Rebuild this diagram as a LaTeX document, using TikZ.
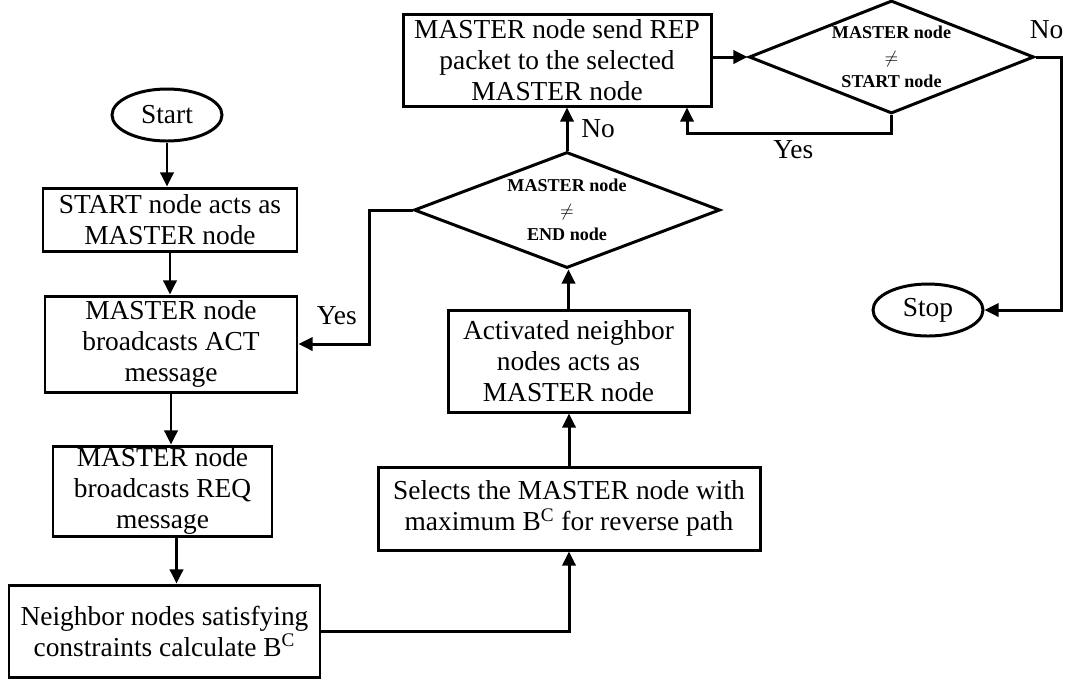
\documentclass[tikz,border=0pt]{standalone}
\usepackage{fontspec}
\setmainfont{Liberation Serif}
\usetikzlibrary{arrows.meta,shapes.geometric}

\begin{document}
\begin{tikzpicture}[->,>={Triangle[length=8pt,width=7.5pt]},line width=1.7pt,
    box/.style={shape=rectangle,draw=black,align=center,inner sep=0pt,font=\fontsize{15.6}{17.6}\selectfont},
    term/.style={shape=ellipse,draw=black,inner sep=0pt,minimum width=2.2cm,minimum height=1.04cm,font=\fontsize{15.6}{17.6}\selectfont},
    decide/.style={shape=diamond,draw=black,align=center,inner sep=0pt,font=\fontsize{10.3}{13.8}\selectfont\bfseries},
    lbl/.style={font=\fontsize{15.6}{17.6}\selectfont}]
                \useasboundingbox (0, 0) rectangle (21.34, -13.64);
                \node[term](Start)at(3.34, -2.30){Start};
                \node[box,minimum width=5.08cm,minimum height=1.26cm](Act)at(3.40, -4.39){START node acts as\\MASTER node};
                \node[box,minimum width=5.04cm,minimum height=1.92cm](Bact)at(3.42, -6.88){MASTER node\\broadcasts ACT\\message};
                \node[box,minimum width=4.38cm,minimum height=1.80cm](Breq)at(3.25, -9.82){MASTER node\\broadcasts REQ\\message};
                \node[box,minimum width=6.22cm,minimum height=1.84cm](Calc)at(3.29, -12.62){Neighbor nodes satisfying\\constraints calculate B\textsuperscript{C}};
                \node[box,minimum width=7.64cm,minimum height=1.66cm](Sel)at(11.38, -10.17){Selects the MASTER node with\\maximum B\textsuperscript{C} for reverse path};
                \node[box,minimum width=4.82cm,minimum height=2.04cm](Nbr)at(11.37, -7.22){Activated neighbor\\nodes acts as\\MASTER node};
                \node[decide,aspect=2.64,minimum width=6.12cm,minimum height=2.32cm](EndChk)at(11.34, -4.20){MASTER node\\{\mdseries$\neq$}\\END node};
                \node[box,minimum width=6.16cm,minimum height=1.84cm](Rep)at(11.14, -1.20){MASTER node send REP\\packet to the selected\\MASTER node};
                \node[decide,aspect=2.52,minimum width=5.70cm,minimum height=2.26cm](StartChk)at(17.83, -1.14){MASTER node\\{\mdseries$\neq$}\\START node};
                \node[term](Stop)at(18.56, -6.20){Stop};
                \coordinate(YesBend)at(13.74, -2.66);

                \draw (Start.south) -- (Start.south |- Act.north);
                \draw (Act.south) -- (Act.south |- Bact.north);
                \draw (Bact.south) -- (Bact.south |- Breq.north);
                \draw ([xshift=0.28cm]Breq.south) -- ([xshift=0.28cm]Breq.south |- Calc.north);
                \draw (Calc.east) -| (Sel.south);
                \draw (Sel.north) -- (Sel.north |- Nbr.south);
                \draw (Nbr.north) -- (Nbr.north |- EndChk.south);
                \draw (EndChk.north) -- node[lbl,right=4pt,pos=0.5]{No} (EndChk.north |- Rep.south);
                \draw (EndChk.west) -- ++(-0.86, 0) |- node[lbl,above=7pt,pos=0.73]{Yes} (Bact.east);
                \draw (Rep.east |- StartChk.west) -- (StartChk.west);
                \draw (StartChk.south) |- node[lbl,below,pos=0.74]{Yes} (YesBend) -- (YesBend |- Rep.south);
                \draw (StartChk.east) -- ++(0.52, 0) node[lbl,anchor=south,yshift=6pt,xshift=-0.3cm]{No} |- (Stop.east);
\end{tikzpicture}
\end{document}
